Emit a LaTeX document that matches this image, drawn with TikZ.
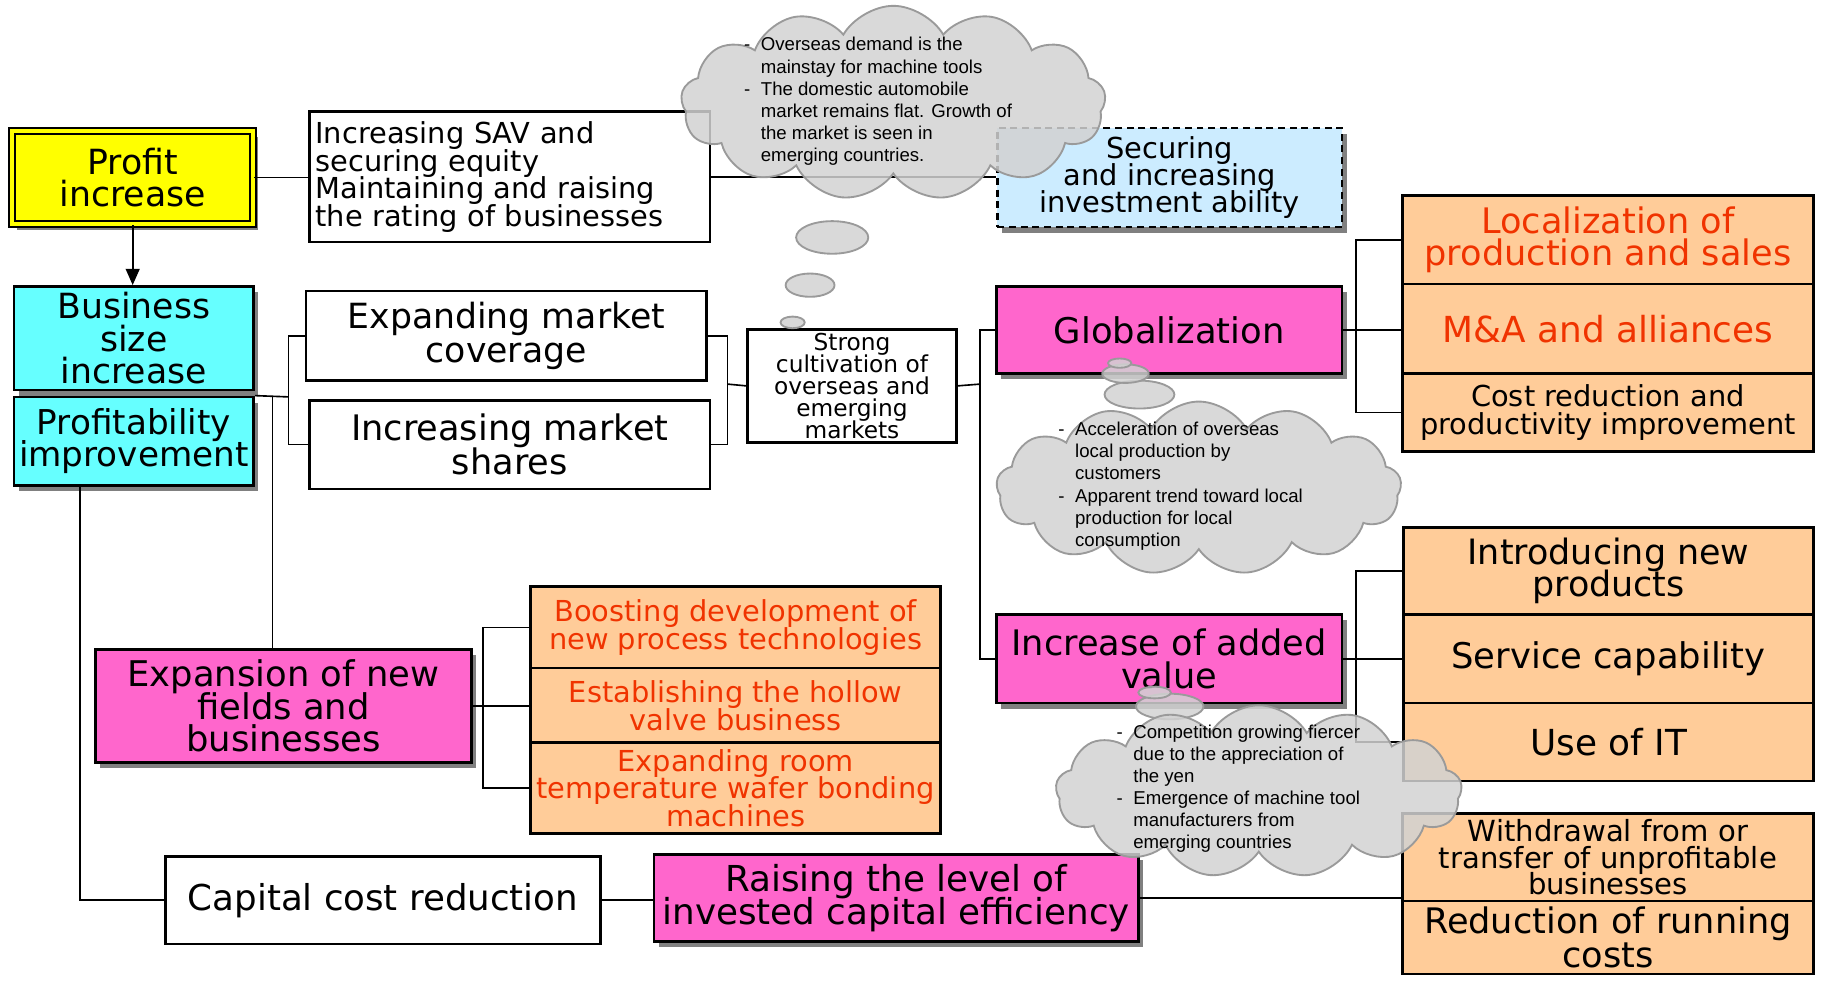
\documentclass[tikz,border=0pt]{standalone}
\usepackage{fontspec}
\setmainfont{DejaVu Sans}
\newfontfamily\cloudfont{Liberation Sans}
\usetikzlibrary{shapes.symbols,shadows,arrows.meta}
\definecolor{yelC}{HTML}{FFFF00}
\definecolor{cyanC}{HTML}{66FFFF}
\definecolor{magC}{HTML}{FF66CC}
\definecolor{orC}{HTML}{FFCC99}
\definecolor{blueC}{HTML}{CCECFF}
\definecolor{redC}{HTML}{F03300}
\definecolor{cloudC}{HTML}{D2D2D2}
\definecolor{cloudD}{HTML}{9A9A9A}
\definecolor{shadowC}{HTML}{808080}
\newcommand\fCld{\cloudfont\fontsize{8}{9.5}\selectfont}
\newcommand\tightls{\lineskiplimit-30pt\relax\lineskip0pt\relax}
\begin{document}
\begin{tikzpicture}[x=0.5pt,y=-0.5pt,
  sz/.style 2 args={minimum width=#1, minimum height=#2},
  fs/.style 2 args={font={\fontsize{#1}{#2}\selectfont\tightls}},
  bx/.style={draw=black, line width=1.1pt, inner sep=0pt, align=center, fs={15}{14}},
  wbx/.style={bx, fill=white},
  shd/.style={drop shadow={shadow xshift=2pt, shadow yshift=-2.5pt, fill=shadowC, opacity=1}},
  cybx/.style={bx, fill=cyanC, shd},
  mgbx/.style={bx, fill=magC, shd},
  orbx/.style={bx, fill=orC},
  redtx/.style={text=redC},
  ln/.style={draw=black, line width=0.7pt},
  cloudsty/.style={cloud, cloud puffs=13, cloud puff arc=120, cloud ignores aspect,
     draw=cloudD, line width=0.8pt, fill=cloudC, fill opacity=0.85, inner sep=0pt},
  bub/.style={draw=cloudD, line width=0.8pt, fill=cloudC, fill opacity=0.85},
  cldtxt/.style={anchor=west, font=\fCld, inner sep=0pt, align=left}
]
\useasboundingbox (0,0) rectangle (1568,842);

% ---- boxes ----
\node[bx, fill=yelC, double=yelC, double distance=1.6pt, line width=0.9pt, shd,
      fs={14.9}{13.5}, sz={103.5pt}{40pt}] (profit) at (114,152.5) {Profit\\increase};
\node[cybx, fs={14.9}{14}, sz={103pt}{44.5pt}] (biz) at (115,290.5) {Business\\size\\increase};
\node[cybx, fs={14.7}{14}, sz={103pt}{38pt}] (prof) at (115,379) {Profitability\\improvement};
\node[wbx, fs={12.4}{11.85}, text width=167pt, align=left, sz={172pt}{56pt}] (sav) at (438,152)
  {Increasing SAV and\\securing equity\\Maintaining and raising\\the rating of businesses};
\node[bx, fill=blueC, dash pattern=on 3pt off 2pt, shd, fs={12.4}{11.75}, sz={148pt}{42.5pt}] (sec) at (1005,152.5)
  {Securing\\and increasing\\investment ability};
\node[wbx, fs={14.9}{14.5}, sz={172pt}{38.5pt}] (emc) at (435,288.5) {Expanding market\\coverage};
\node[wbx, fs={15.1}{14.5}, sz={172pt}{38pt}] (ims) at (438,382) {Increasing market\\shares};
\node[wbx, fs={10}{9.4}, sz={90pt}{48.5pt}] (str) at (732,331.5) {Strong\\cultivation of\\overseas and\\emerging\\markets};
\node[mgbx, fs={15.2}{14}, sz={148.5pt}{37.5pt}] (glob) at (1004.5,283.5) {Globalization};
\node[orbx, redtx, fs={15.1}{14}, sz={176.5pt}{38pt}] (loc) at (1381.5,206) {Localization of\\production and sales};
\node[orbx, redtx, fs={15.4}{14}, sz={176.5pt}{38.5pt}] (ma) at (1381.5,282.5) {M\&A and alliances};
\node[orbx, fs={12.4}{12}, sz={176.5pt}{33.5pt}] (cost) at (1381.5,354.5) {Cost reduction and\\productivity improvement};
\node[orbx, fs={15}{14}, sz={176pt}{37.5pt}] (intro) at (1382,490.5) {Introducing new\\products};
\node[orbx, fs={15.2}{14}, sz={176pt}{38pt}] (svc) at (1382,566) {Service capability};
\node[orbx, fs={15.4}{14}, sz={176pt}{33.5pt}] (useit) at (1382,637.5) {Use of IT};
\node[mgbx, fs={15.1}{14}, sz={148.5pt}{38pt}] (iav) at (1004.5,566) {Increase of added\\value};
\node[mgbx, fs={15.2}{14}, sz={161.5pt}{48.5pt}] (exp) at (243.5,606.5) {Expansion of new\\fields and\\businesses};
\node[orbx, redtx, fs={12.4}{12}, sz={176pt}{35pt}] (boost) at (632,539) {Boosting development of\\new process technologies};
\node[orbx, redtx, fs={12.4}{12}, sz={176pt}{32pt}] (hollow) at (632,606) {Establishing the hollow\\valve business};
\node[orbx, redtx, fs={12.4}{11.75}, sz={176pt}{39pt}] (wafer) at (632,677) {Expanding room\\temperature wafer bonding\\machines};
\node[wbx, fs={15.3}{14}, sz={187pt}{37.5pt}] (cap) at (329,773.5) {Capital cost reduction};
\node[mgbx, fs={15.35}{14}, sz={208pt}{37.5pt}] (rais) at (770,771.5) {Raising the level of\\invested capital efficiency};
\node[orbx, fs={12.5}{11.5}, sz={176.5pt}{37.5pt}] (wd) at (1381.5,736.5) {Withdrawal from or\\transfer of unprofitable\\businesses};
\node[orbx, fs={15.1}{14.5}, sz={176.5pt}{31.5pt}] (rrc) at (1381.5,805.5) {Reduction of running\\costs};

% ---- connector helper coordinates ----
\coordinate (bA) at (248,341);
\coordinate (vA) at (234,341);
\coordinate (vB) at (69,417);
\coordinate (bB) at (625,330);
\coordinate (bC) at (842,330);
\coordinate (bD) at (1165,283);
\coordinate (bE) at (1165,566);
\coordinate (bF) at (415,606);

% ---- connectors ----
\draw[ln, -{Triangle[length=7pt,width=6pt]}] (profit.south) -- (profit.south |- biz.north);
\draw[ln] (profit.east) -- (profit.east -| sav.west);
\draw[ln] (sav.east) -- (sav.east -| sec.west);
\draw[ln] (prof.north east) -- (bA);
\draw[ln] (emc.west) -- (emc.west -| bA) |- (ims.west);
\draw[ln] (vA) -- (vA |- exp.north);
\draw[ln] (vB) |- (cap.west);
\draw[ln] (emc.east) -- (emc.east -| bB) |- (ims.east);
\draw[ln] (bB) -- (str.west);
\draw[ln] (str.east) -- (bC);
\draw[ln] (glob.west) -- (glob.west -| bC) |- (iav.west);
\draw[ln] (glob.east) -- (glob.east -| ma.west);
\draw[ln] (loc.west) -- (loc.west -| bD) |- (cost.west);
\draw[ln] (iav.east) -- (iav.east -| svc.west);
\draw[ln] (intro.west) -- (intro.west -| bE) |- (useit.west);
\draw[ln] (exp.east) -- (exp.east -| hollow.west);
\draw[ln] (boost.west) -- (boost.west -| bF) |- (wafer.west);
\draw[ln] (cap.east) -- (cap.east -| rais.west);
\draw[ln] (rais.east) -- (rais.east -| wd.west);

% ---- clouds ----
\node[cloudsty, minimum width=182.5pt, minimum height=83.5pt] (c1) at (767.5,88.5) {};
\path[bub] (715,204) ellipse [x radius=15.5pt, y radius=7pt];
\path[bub] (696,245) ellipse [x radius=10.5pt, y radius=5pt];
\path[bub] (681,277) ellipse [x radius=5.2pt, y radius=2.5pt];
\node[cldtxt] (c1t) at (639,87.5) {\begin{tabular}{@{}l@{\hspace{4.5pt}}l@{}}-&Overseas demand is the\\&mainstay for machine tools\\-&The domestic automobile\\&market remains flat. Growth of\\&the market is seen in\\&emerging countries.\end{tabular}};

\path[bub] (979,339) ellipse [x radius=15pt, y radius=6pt];
\path[bub] (967,321) ellipse [x radius=10pt, y radius=4pt];
\path[bub] (962,312) ellipse [x radius=5pt, y radius=2pt];
\node[cloudsty, minimum width=174pt, minimum height=74.5pt] (c2) at (1030,419.5) {};
\node[cldtxt] (c2t) at (909,418) {\begin{tabular}{@{}l@{\hspace{4.5pt}}l@{}}-&Acceleration of overseas\\&local production by\\&customers\\-&Apparent trend toward local\\&production for local\\&consumption\end{tabular}};

\path[bub] (1005,607) ellipse [x radius=14.5pt, y radius=5.5pt];
\path[bub] (992,595) ellipse [x radius=7pt, y radius=2.5pt];
\node[cloudsty, minimum width=174.5pt, minimum height=74pt] (c3) at (1081.5,680) {};
\node[cldtxt] (c3t) at (959,678) {\begin{tabular}{@{}l@{\hspace{4.5pt}}l@{}}-&Competition growing fiercer\\&due to the appreciation of\\&the yen\\-&Emergence of machine tool\\&manufacturers from\\&emerging countries\end{tabular}};
\end{tikzpicture}
\end{document}
